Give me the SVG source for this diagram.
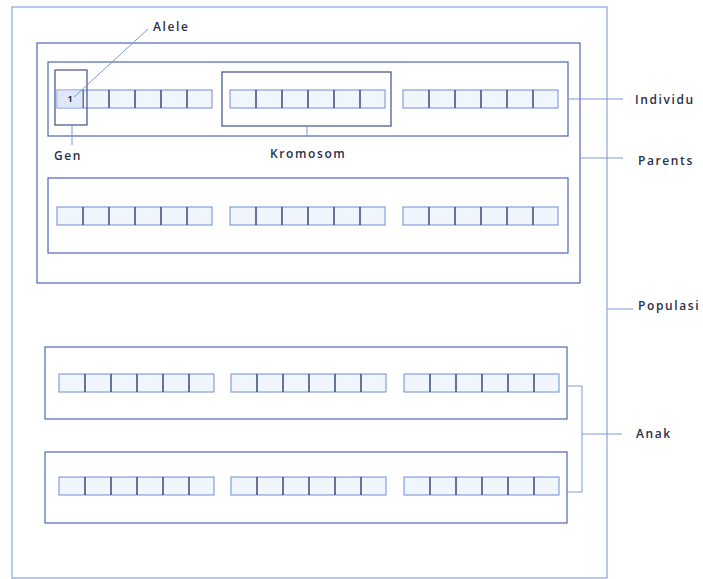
<svg xmlns="http://www.w3.org/2000/svg" xmlns:xlink="http://www.w3.org/1999/xlink" width="703" height="579" viewBox="0 0 703 579">
<style>
.box{fill:none;stroke:#4f67b8;stroke-width:1.2}
.outer{fill:none;stroke:#8ea4e0;stroke-width:1.2}
.sel{fill:none;stroke:#3c4f8f;stroke-width:1.2}
.conn{fill:none;stroke:#7c98dc;stroke-width:1}
.lbl{font-family:"Open Sans","Liberation Sans",sans-serif;font-size:12px;font-weight:600;letter-spacing:1.6px;fill:#2a2f4a}
.cf{fill:#f1f5fc;stroke:#6e8ed8;stroke-width:1}
.dv{stroke:#2d3c6e;stroke-width:1.4}
</style>
<defs>
<g id="chrom">
<rect class="cf" x="0" y="0" width="155" height="18"/>
<line class="dv" x1="26" y1="0" x2="26" y2="18"/>
<line class="dv" x1="52" y1="0" x2="52" y2="18"/>
<line class="dv" x1="78" y1="0" x2="78" y2="18"/>
<line class="dv" x1="104" y1="0" x2="104" y2="18"/>
<line class="dv" x1="130" y1="0" x2="130" y2="18"/>
</g>
</defs>
<rect width="703" height="579" fill="#ffffff"/>
<g id="populasi"><rect class="outer" x="12" y="7" width="595" height="571"/></g>
<g id="parents"><rect class="box" x="37" y="43" width="543" height="240"/></g>
<g id="individu1">
<rect class="box" x="48" y="62" width="520" height="74"/>
<use xlink:href="#chrom" x="57" y="90"/>
<use xlink:href="#chrom" x="230" y="90"/>
<use xlink:href="#chrom" x="403" y="90"/>
<rect x="57.5" y="90.5" width="25" height="17" fill="#dfe8f8"/>
<text x="70" y="102" text-anchor="middle" style="font-family:'Open Sans','Liberation Sans',sans-serif;font-size:9px;font-weight:700;fill:#2a2f4a">1</text>
</g>
<g id="gen"><rect class="sel" x="55" y="70" width="32" height="55"/></g>
<g id="kromosom"><rect class="sel" x="222" y="72" width="169" height="54"/></g>
<g id="individu2">
<rect class="box" x="48" y="178" width="520" height="75"/>
<use xlink:href="#chrom" x="57" y="207"/>
<use xlink:href="#chrom" x="230" y="207"/>
<use xlink:href="#chrom" x="403" y="207"/>
</g>
<g id="anak1">
<rect class="box" x="45" y="347" width="522" height="72"/>
<use xlink:href="#chrom" x="59" y="374"/>
<use xlink:href="#chrom" x="231" y="374"/>
<use xlink:href="#chrom" x="404" y="374"/>
</g>
<g id="anak2">
<rect class="box" x="45" y="452" width="522" height="71"/>
<use xlink:href="#chrom" x="59" y="477"/>
<use xlink:href="#chrom" x="231" y="477"/>
<use xlink:href="#chrom" x="404" y="477"/>
</g>
<g id="connectors">
<line class="conn" x1="74" y1="97" x2="148" y2="29"/>
<line class="conn" x1="72" y1="125" x2="72" y2="145"/>
<line class="conn" x1="307" y1="126" x2="307" y2="137"/>
<line class="conn" x1="568" y1="99" x2="623" y2="99"/>
<line class="conn" x1="580" y1="158" x2="623" y2="158"/>
<line class="conn" x1="607" y1="309" x2="633" y2="309"/>
<path class="conn" d="M567,386 H582 V492 H567 M582,434 H622"/>
</g>
<g id="labels">
<text class="lbl" x="153" y="31">Alele</text>
<text class="lbl" x="54" y="160">Gen</text>
<text class="lbl" x="270" y="158">Kromosom</text>
<text class="lbl" x="635" y="104">Individu</text>
<text class="lbl" x="638" y="165">Parents</text>
<text class="lbl" x="638" y="310">Populasi</text>
<text class="lbl" x="636" y="438">Anak</text>
</g>
</svg>
